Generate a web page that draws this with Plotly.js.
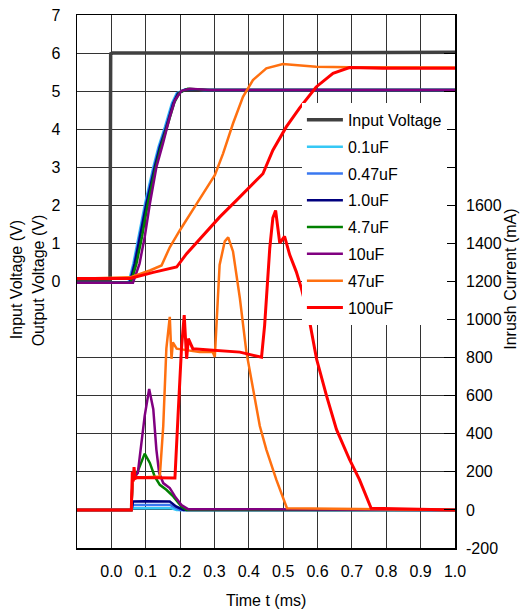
<!DOCTYPE html>
<html>
<head>
<meta charset="utf-8">
<script src="https://cdn.plot.ly/plotly-3.0.1.min.js"></script>
<style>html,body{margin:0;padding:0;background:#fff;}#chart{width:521px;height:612px;}</style>
</head>
<body>
<div id="chart"></div>
<script>
// ---- Tick labels ----
var xTickVals = [0,0.1,0.2,0.3,0.4,0.5,0.6,0.7,0.8,0.9,1.0];
var xTickText = ["0.0","0.1","0.2","0.3","0.4","0.5","0.6","0.7","0.8","0.9","1.0"];
var yTickVals = [0,1,2,3,4,5,6,7];
var y2TickVals = [-200,0,200,400,600,800,1000,1200,1400,1600,1800,2000,2200,2400,2600];
var y2TickText = ["-200","0","200","400","600","800","1000","1200","1400","1600","","","","",""];

// ---- Series names ----
var names = ["Input Voltage","0.1uF","0.47uF","1.0uF","4.7uF","10uF","47uF","100uF"];

// ---- Voltages (V) vs time (ms) ----
var tInput = [-0.1,-0.004,-0.002,0.003,0.3,0.6,1.0];
var vInput = [0.02,0.02,5.98,6.0,6.0,6.01,6.02];

var tV01 = [-0.1,0.050,0.064,0.079,0.098,0.122,0.137,0.156,0.176,0.190,0.215,0.272,1.0];
var vV01 = [-0.03,-0.03,0.47,1.17,2.04,3.0,3.53,4.06,4.68,4.94,5.05,5.03,5.03];
var tV047 = [-0.1,0.052,0.066,0.081,0.100,0.124,0.139,0.158,0.178,0.192,0.217,0.274,1.0];
var vV047 = [-0.03,-0.03,0.47,1.17,2.04,3.0,3.53,4.06,4.68,4.94,5.05,5.03,5.03];
var tV1 = [-0.1,0.054,0.068,0.083,0.102,0.126,0.141,0.160,0.180,0.194,0.219,0.276,1.0];
var vV1 = [-0.03,-0.03,0.47,1.17,2.04,3.0,3.53,4.06,4.68,4.94,5.05,5.03,5.03];
var tV47 = [-0.1,0.057,0.073,0.089,0.106,0.129,0.145,0.164,0.183,0.198,0.222,0.280,1.0];
var vV47 = [-0.03,-0.03,0.47,1.17,2.04,3.0,3.55,4.15,4.70,4.96,5.06,5.03,5.03];
var tV10 = [-0.1,0.063,0.082,0.097,0.112,0.131,0.150,0.170,0.185,0.204,0.228,0.286,1.0];
var vV10 = [-0.03,-0.03,0.47,1.17,2.04,3.0,3.62,4.32,4.76,5.01,5.06,5.03,5.03];
var tV470 = [-0.1,0.054,0.112,0.146,0.170,0.199,0.248,0.301,0.325,0.354,0.383,0.412,0.451,0.499,0.596,0.693,1.0];
var vV470 = [0.07,0.11,0.29,0.42,0.9,1.34,2.04,2.79,3.36,4.15,4.85,5.29,5.6,5.71,5.64,5.63,5.62];
var tV100 = [-0.1,0.054,0.122,0.190,0.219,0.267,0.315,0.364,0.412,0.441,0.470,0.509,0.548,0.596,0.645,0.693,0.790,1.0];
var vV100 = [0.08,0.08,0.24,0.38,0.73,1.21,1.69,2.13,2.57,2.83,3.45,4.06,4.56,5.11,5.47,5.62,5.6,5.6];

// ---- Inrush currents (mA) vs time (ms) ----
var tI01 = [-0.1,0.058,0.062,0.175,0.19,1.0];
var iI01 = [0,0,9,9,0,0];
var tI047 = [-0.1,0.058,0.062,0.17,0.20,1.0];
var iI047 = [0,0,26,26,0,0];
var tI1 = [-0.1,0.059,0.063,0.10,0.17,0.188,0.21,1.0];
var iI1 = [0,0,44,46,44,18,0,0];
var tI47 = [-0.1,0.058,0.062,0.073,0.097,0.112,0.126,0.141,0.160,0.180,0.204,0.219,1.0];
var iI47 = [0,0,160,185,296,247,176,132,106,71,18,0,0];
var tI10 = [-0.1,0.058,0.062,0.077,0.097,0.110,0.122,0.131,0.139,0.151,0.170,0.185,0.204,0.223,1.0];
var iI10 = [0,0,165,194,494,635,529,317,194,141,115,71,26,4,0];
var tI470 = [-0.1,0.058,0.062,0.141,0.151,0.160,0.170,0.175,0.179,0.190,0.257,0.295,0.301,0.306,0.315,0.330,0.340,0.354,0.374,0.393,0.412,0.432,0.451,0.480,0.511,1.0];
var iI470 = [0,0,168,176,441,847,1014,794,880,847,829,829,804,970,1287,1411,1432,1358,1111,829,635,441,317,159,9,0];
var tI100 = [-0.1,0.058,0.061,0.064,0.066,0.069,0.075,0.185,0.194,0.204,0.212,0.219,0.224,0.237,0.374,0.437,0.446,0.461,0.470,0.478,0.490,0.504,0.519,0.538,0.553,0.577,0.597,0.626,0.655,0.693,0.722,0.756,1.0];
var iI100 = [0,0,200,150,225,165,170,168,494,847,1023,794,900,847,829,802,970,1376,1534,1573,1402,1437,1340,1252,1164,989,794,600,423,265,159,9,0];

// ---- Styles ----
var colors = ["#404040","#35c8f5","#3a78f0","#00007f","#008000","#800080","#ff7010","#ff0000"];
var widths = [3.5,2.5,2.5,2.5,2.5,2.5,2.5,3];

var vT = [tInput,tV01,tV047,tV1,tV47,tV10,tV470,tV100];
var vY = [vInput,vV01,vV047,vV1,vV47,vV10,vV470,vV100];
var iT = [null,tI01,tI047,tI1,tI47,tI10,tI470,tI100];
var iY = [null,iI01,iI047,iI1,iI47,iI10,iI470,iI100];

var data = [];
for (var k = 0; k < names.length; k++) {
  data.push({x: vT[k], y: vY[k], type: 'scatter', mode: 'lines', name: names[k],
    legendgroup: names[k], yaxis: 'y', line: {color: colors[k], width: widths[k]}});
}
for (var k = 1; k < names.length; k++) {
  data.push({x: iT[k], y: iY[k], type: 'scatter', mode: 'lines', name: names[k],
    legendgroup: names[k], showlegend: false, yaxis: 'y2', line: {color: colors[k], width: widths[k]}});
}

var font = {family: 'Arial, "Liberation Sans", sans-serif', size: 16, color: '#000'};
var gridc = '#333';

var layout = {
  width: 521, height: 612,
  margin: {l: 77, r: 66, t: 15, b: 64},
  paper_bgcolor: '#fff', plot_bgcolor: '#fff',
  font: font,
  showlegend: true,
  xaxis: {range: [-0.1, 1.0], tickvals: xTickVals, ticktext: xTickText,
    showgrid: true, gridcolor: gridc, gridwidth: 1, zeroline: false,
    showline: true, linecolor: '#000', linewidth: 1.5, mirror: true,
    ticks: '', ticklabelstandoff: 8, tickfont: font, fixedrange: true},
  yaxis: {range: [-7, 7], tickvals: yTickVals, showgrid: true, gridcolor: gridc, gridwidth: 1,
    zeroline: false, showline: true, linecolor: '#000', linewidth: 1.5, mirror: true,
    ticks: '', ticklabelstandoff: 12, tickfont: font},
  yaxis2: {range: [-200, 2600], overlaying: 'y', side: 'right', tickvals: y2TickVals, ticktext: y2TickText,
    showgrid: true, gridcolor: gridc, gridwidth: 1, zeroline: false, showline: false,
    ticks: 'inside', ticklen: 11, tickcolor: '#000', tickwidth: 1, ticklabelstandoff: 10, tickfont: font},
  legend: {x: 0.595, y: 0.835, xanchor: 'left', yanchor: 'top', bgcolor: '#fff', borderwidth: 0,
    font: font, tracegroupgap: 3, itemwidth: 36},
  annotations: [
    {text: 'Time t (ms)', xref: 'paper', yref: 'paper', x: 0.5, y: -0.0976, xanchor: 'center', yanchor: 'middle', showarrow: false, font: font},
    {text: 'Input Voltage (V)', xref: 'paper', yref: 'paper', x: -0.158, y: 0.503, xanchor: 'center', yanchor: 'middle', textangle: -90, showarrow: false, font: font},
    {text: 'Output Voltage (V)', xref: 'paper', yref: 'paper', x: -0.102, y: 0.503, xanchor: 'center', yanchor: 'middle', textangle: -90, showarrow: false, font: font},
    {text: 'Inrush Current (mA)', xref: 'paper', yref: 'paper', x: 1.148, y: 0.505, xanchor: 'center', yanchor: 'middle', textangle: -90, showarrow: false, font: font}
  ]
};

Plotly.newPlot('chart', data, layout, {displayModeBar: false, staticPlot: true});
</script>
</body>
</html>
